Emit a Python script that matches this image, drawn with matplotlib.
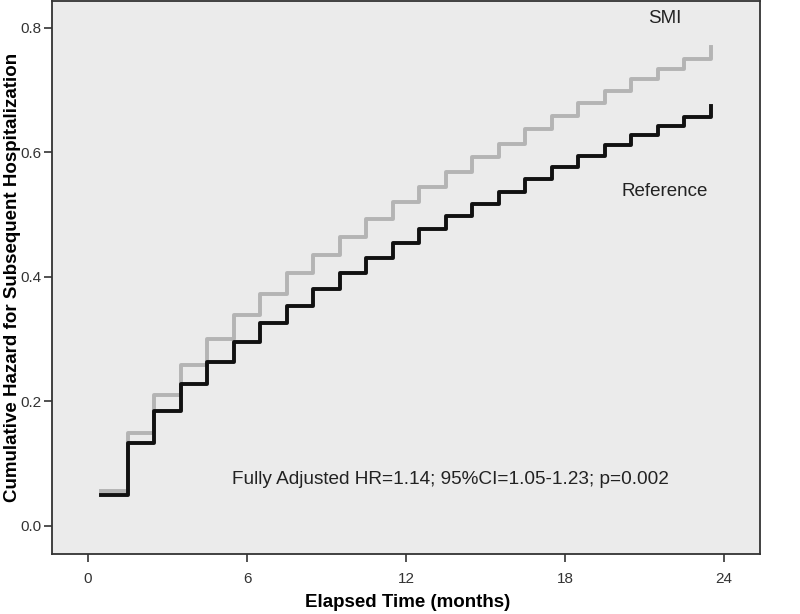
import matplotlib
matplotlib.use('Agg')
import matplotlib.pyplot as plt

plt.rcParams['font.family'] = ['Liberation Sans', 'DejaVu Sans']

# Step times (months) and cumulative hazard levels
months = [0.5, 1.5, 2.5, 3.5, 4.5, 5.5, 6.5, 7.5, 8.5, 9.5, 10.5, 11.5,
          12.5, 13.5, 14.5, 15.5, 16.5, 17.5, 18.5, 19.5, 20.5, 21.5, 22.5, 23.5]
smi = [0.056, 0.149, 0.210, 0.259, 0.300, 0.339, 0.373, 0.406, 0.435, 0.464,
       0.493, 0.520, 0.544, 0.568, 0.593, 0.614, 0.638, 0.659, 0.680, 0.699,
       0.718, 0.734, 0.750, 0.770]
reference = [0.050, 0.133, 0.185, 0.228, 0.263, 0.296, 0.326, 0.353, 0.381, 0.406,
             0.430, 0.455, 0.477, 0.498, 0.517, 0.537, 0.557, 0.577, 0.594, 0.612,
             0.628, 0.643, 0.657, 0.675]

xticks = [0, 6, 12, 18, 24]
yticks = [0.0, 0.2, 0.4, 0.6, 0.8]

fig = plt.figure(figsize=(8, 6.14), dpi=100)
ax = fig.add_axes([0.065, 0.0977, 0.885, 0.9003])
ax.set_facecolor('#ebebeb')

ax.step(months, smi, where='post', color='#b4b4b4', linewidth=2.8)
ax.step(months, reference, where='post', color='#111111', linewidth=2.8)

ax.set_xlim(-1.36, 25.36)
ax.set_ylim(-0.045, 0.843)
ax.set_xticks(xticks)
ax.set_xticklabels([str(t) for t in xticks])
ax.set_yticks(yticks)
ax.set_yticklabels([f'{t:.1f}' for t in yticks])

for s in ax.spines.values():
    s.set_color('#333333')
    s.set_linewidth(1.3)
ax.tick_params(axis='both', direction='out', length=6, width=1.2, color='#333333',
               labelsize=11, labelcolor='#333333')
ax.tick_params(axis='x', pad=7)
ax.tick_params(axis='y', pad=1.5)

ax.text(21.77, 0.816, 'SMI', fontsize=13.5, color='#222222', ha='center', va='center')
ax.text(21.77, 0.537, 'Reference', fontsize=13.5, color='#222222', ha='center', va='center')
ax.text(13.66, 0.074, 'Fully Adjusted HR=1.14; 95%CI=1.05-1.23; p=0.002',
        fontsize=13.7, color='#222222', ha='center', va='center')

ax.set_xlabel('Elapsed Time (months)', fontsize=13.5, fontweight='bold', va='center')
ax.xaxis.set_label_coords(0.502, -0.0886)
ax.set_ylabel('Cumulative Hazard for Subsequent Hospitalization', fontsize=13.5,
              fontweight='bold', va='center')
ax.yaxis.set_label_coords(-0.056, 0.5)

fig.savefig('out.png', dpi=100)
